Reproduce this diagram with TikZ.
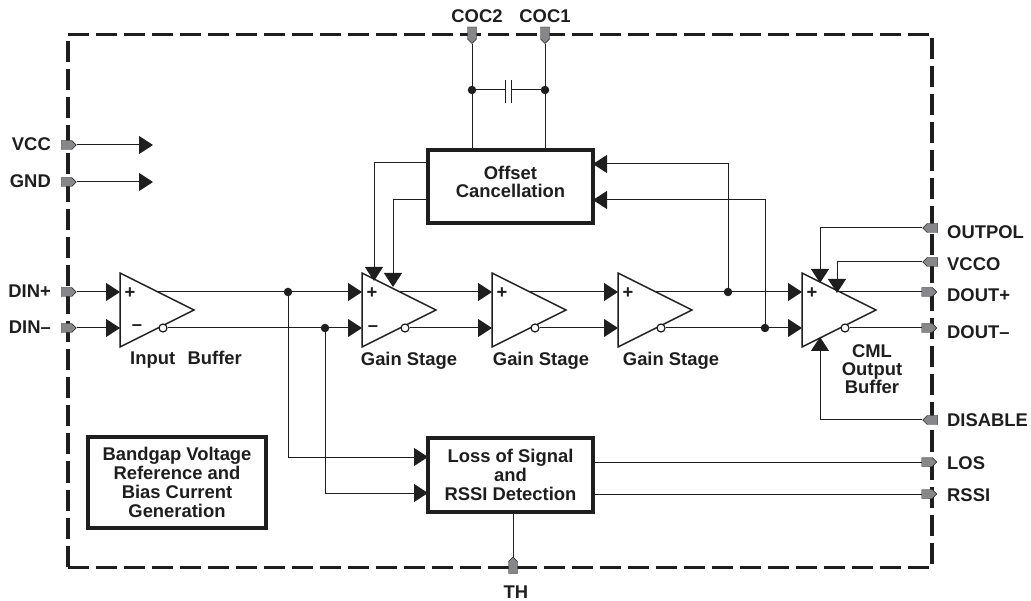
\documentclass[tikz,border=0pt]{standalone}
\usepackage{fontspec}
\setmainfont{Liberation Sans}
\usetikzlibrary{
  arrows.meta,
  shapes.geometric,
  shapes.symbols
}
\definecolor{inkblack}{RGB}{30,30,30}
\definecolor{pingray}{RGB}{135,135,138}
\tikzset{
  txt/.style={font=\fontsize{18.4}{18}\selectfont\bfseries, text=inkblack, inner sep=0pt, align=center},
  wire/.style={draw=inkblack, line width=1pt},
  sig/.style={wire, -{Triangle[length=14pt,width=18pt,fill=inkblack]}},
  blockbox/.style={txt, draw=inkblack, line width=3.4pt, fill=white, outer sep=0pt},
  amp/.style={isosceles triangle, isosceles triangle stretches, shape border rotate=0, draw=inkblack,
    line width=1.5pt, fill=white, minimum width=74pt, minimum height=74pt, inner sep=0pt, outer sep=0pt, anchor=lower side},
  bubble/.style={circle, draw=inkblack, line width=1.2pt, fill=white, minimum size=8pt, inner sep=0pt},
  junction/.style={circle, fill=inkblack, minimum size=8.5pt, inner sep=0pt},
  pin/.style={signal, draw=inkblack, line width=0.4pt, fill=pingray, inner sep=0pt, minimum width=15pt, minimum height=9pt},
  pinv/.style={pin, minimum width=9pt, minimum height=12pt},
}
\begin{document}
\begin{tikzpicture}[x=1pt, y=-1pt]
  \useasboundingbox (0,0) rectangle (1031,601);

  % Package outline
  \node[draw=inkblack, line width=3.2pt, dash pattern=on 21pt off 7pt, minimum width=864pt, minimum height=533pt, outer sep=0pt] (chip) at (500,301) {};

  % Pins
  \foreach \n/\y/\t in {vcc/145/VCC, gnd/182/GND, dinp/292/DIN+, dinm/328/DIN--} {
    \node[pin, signal to=east] (\n) at (66.5,\y) {};
    \node[txt, anchor=east] (\n l) at (51,\y-1) {\t};
  }
  \foreach \n/\y/\t/\dy in {doutp/292/DOUT+/3, doutm/328/DOUT--/4, los/462/LOS/1, rssi/494/RSSI/1} {
    \node[pin, signal to=east] (\n) at (927,\y) {};
    \node[txt, anchor=west] (\n l) at (947,\y+\dy) {\t};
  }
  \foreach \n/\y/\t/\dy in {outpol/228/OUTPOL/4, vcco/262/VCCO/2, disable/420/DISABLE/0} {
    \node[pin, signal to=west] (\n) at (932.5,\y) {};
    \node[txt, anchor=west] (\n l) at (947,\y+\dy) {\t};
  }
  \node[pinv, signal to=south] (coc2) at (472,33) {};
  \node[pinv, signal to=south] (coc1) at (545,33) {};
  \node[pinv, signal to=north] (th) at (513,567.5) {};
  \node[txt] (coc2l) at (477,16) {COC2};
  \node[txt] (coc1l) at (545,16) {COC1};
  \node[txt] (thl) at (516,592) {TH};

  % Amplifiers
  \foreach \n/\x in {ib/120, ga/362, gb/492, gc/618, ob/802} {
    \node[amp] (\n) at (\x,310) {};
    \node[bubble] (\n b) at (\x+43,328) {};
    \coordinate (\n p) at (\x,292);
    \coordinate (\n m) at (\x,328);
    \coordinate (\n o) at (\x+36,292);
    \node[txt] (\n plus) at (\x+10,293) {+};
  }
  \node[txt] (ibminus) at (137,328) {--};
  \node[txt] (gaminus) at (373,329) {--};

  % Blocks
  \node[blockbox, minimum width=165pt, minimum height=73pt] (offset) at (510.5,186.5) {Offset\\Cancellation\\[-8pt]\mbox{}};
  \node[blockbox, minimum width=165pt, minimum height=74pt] (lossdet) at (510.5,475) {Loss of Signal\\[1pt]and\\[1pt]RSSI Detection};
  \node[blockbox, minimum width=178pt, minimum height=91pt] (bandgap) at (177,482.5) {Bandgap Voltage\\[1pt]Reference and\\[1pt]Bias Current\\[1pt]Generation};

  % Block labels
  \node[txt] (iblabel) at (186,360) {Input\hspace{0.4em} Buffer};
  \node[txt] (galabel) at (409,361) {Gain Stage};
  \node[txt] (gblabel) at (541,361) {Gain Stage};
  \node[txt] (gclabel) at (671,361) {Gain Stage};
  \node[txt] (oblabel) at (872,369) {CML\\Output\\Buffer};

  % Junctions
  \node[junction] (ja) at (288,292) {};
  \node[junction] (jb) at (325,328) {};
  \node[junction] (jc) at (728,292) {};
  \node[junction] (jd) at (765,328) {};
  \node[junction] (je) at (472,90) {};
  \node[junction] (jf) at (545,90) {};

  % Supply arrows
  \coordinate (vcct) at (153,145);
  \coordinate (gndt) at (153,182);
  \draw[sig] (vcc) -- (vcct);
  \draw[sig] (gnd) -- (gndt);

  % Differential path
  \draw[sig] (dinp) -- (ibp);
  \draw[sig] (dinm) -- (ibm);
  \draw[wire] (ibo) -- (ja);
  \draw[sig] (ja) -- (gap);
  \draw[wire] (ibb) -- (jb);
  \draw[sig] (jb) -- (gam);
  \draw[sig] (gao) -- (gbp);
  \draw[sig] (gab) -- (gbm);
  \draw[sig] (gbo) -- (gcp);
  \draw[sig] (gbb) -- (gcm);
  \draw[wire] (gco) -- (jc);
  \draw[sig] (jc) -- (obp);
  \draw[wire] (gcb) -- (jd);
  \draw[sig] (jd) -- (obm);
  \draw[wire] (obo) -- (doutp);
  \draw[wire] (obb) -- (doutm);

  % Offset loop
  \coordinate (offa) at (428,163);
  \coordinate (offb) at (428,200);
  \coordinate (offc) at (593,164);
  \coordinate (offd) at (593,200);
  \coordinate (gaa) at (374,281);
  \coordinate (gac) at (393,287);
  \draw[sig] (offa) -| (gaa);
  \draw[sig] (offb) -| (gac);
  \draw[sig] (jc) |- (offc);
  \draw[sig] (jd) |- (offd);
  \draw[wire] (coc2) -- (je);
  \draw[wire] (coc1) -- (jf);
  \draw[wire] (je) -- (offset.north -| je);
  \draw[wire] (jf) -- (offset.north -| jf);

  % Capacitor
  \coordinate (capl) at (505,90);
  \coordinate (capr) at (511,90);
  \coordinate (capla) at (505,80);
  \coordinate (caplb) at (505,103);
  \coordinate (capra) at (511,80);
  \coordinate (caprb) at (511,103);
  \draw[wire] (je) -- (capl);
  \draw[wire] (jf) -- (capr);
  \draw[wire] (capla) -- (caplb);
  \draw[wire] (capra) -- (caprb);

  % Output stage controls
  \coordinate (oba) at (820,283);
  \coordinate (obc) at (837,293);
  \coordinate (obd) at (820,337);
  \draw[sig] (outpol) -| (oba);
  \draw[sig] (vcco) -| (obc);
  \draw[sig] (disable) -| (obd);

  % Loss of signal
  \coordinate (lossa) at (428,457);
  \coordinate (lossb) at (428,493);
  \draw[sig] (ja) |- (lossa);
  \draw[sig] (jb) |- (lossb);
  \draw[wire] (lossdet.east |- los) -- (los);
  \draw[wire] (lossdet.east |- rssi) -- (rssi);
  \draw[wire] (lossdet.south -| th) -- (th);
\end{tikzpicture}
\end{document}
